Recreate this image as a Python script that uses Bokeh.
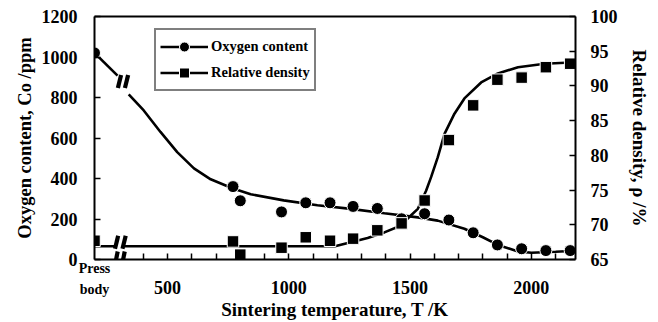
from bokeh.plotting import figure
from bokeh.models import Range1d, LinearAxis, FixedTicker, Legend, LegendItem, Arrow
from bokeh.embed import file_html
from bokeh.resources import INLINE

FONT = "Liberation Serif"

# ---------------- data ----------------
sinter_temp = [770, 800, 970, 1070, 1170, 1265, 1365, 1465, 1560, 1660, 1760, 1860, 1960, 2060, 2160]
oxygen_ppm = [360, 290, 235, 280, 280, 262, 252, 201, 226, 195, 132, 72, 53, 44, 44]
density_pct = [67.6, 65.7, 66.7, 68.2, 67.7, 68.0, 69.2, 70.2, 73.5, 82.2, 87.2, 90.9, 91.2, 92.7, 93.2]
press_oxygen = 1020
press_density = 67.7

# fitted trend curves
oxy_fit_T = [340, 402, 471, 540, 609, 678, 767, 843, 979, 1118, 1256, 1394, 1532, 1614,
             1724, 1800, 1862, 1945, 2000, 2100, 2182]
oxy_fit = [816, 736, 630, 530, 450, 396, 352, 322, 292, 268, 250, 228, 208, 192,
           152, 110, 72, 40, 33, 38, 43]
den_fit_T = [323, 1190, 1256, 1325, 1394, 1463, 1490, 1532, 1566, 1587, 1614, 1642, 1683,
             1724, 1793, 1862, 1945, 2055, 2182]
den_fit = [66.9, 66.9, 67.5, 68.1, 68.9, 69.9, 70.9, 72.3, 74.9, 76.9, 79.7, 83.1, 86.0,
           88.2, 90.5, 91.8, 92.7, 93.2, 93.4]
# segments from the press-body point to the axis break
oxy_press_T = [199, 294]
oxy_press = [press_oxygen, 908]
den_press_T = [199, 288]
den_press = [66.9, 66.9]

press_label = "Press\nbody"
x_major_ticks = [500, 1000, 1500, 2000]
x_minor_ticks = list(range(400, 2200, 100))
left_ticks = [0, 200, 400, 600, 800, 1000, 1200]
right_ticks = [65, 70, 75, 80, 85, 90, 95, 100]
left_title = "Oxygen content, Co /ppm"
right_title = "Relative density, ρ /%"
bottom_title = "Sintering temperature, T /K"

# ---------------- layout constants ----------------
X_START, X_END = 199, 2182
PRESS_T = X_START
FRAME_W, FRAME_H = 481, 243
PX_X = FRAME_W / (X_END - X_START)
PX_Y = FRAME_H / 1200.0
PX_D = FRAME_H / 35.0

p = figure(frame_width=FRAME_W, frame_height=FRAME_H,
           x_range=Range1d(X_START, X_END), y_range=Range1d(0, 1200),
           output_backend="svg", toolbar_location=None,
           x_axis_location=None, y_axis_location=None,
           min_border_left=94, min_border_right=83, min_border_top=16, min_border_bottom=63)
p.extra_y_ranges = {"den": Range1d(65, 100)}
p.grid.visible = False
p.outline_line_color = None
p.background_fill_color = "white"
p.border_fill_color = "white"


def style_axis(ax, standoff, size="18px"):
    ax.axis_line_color = "black"
    ax.axis_line_width = 2
    ax.major_tick_line_color = "black"
    ax.major_tick_line_width = 1.5
    ax.minor_tick_line_color = "black"
    ax.minor_tick_line_width = 1.5
    ax.major_tick_in = 6
    ax.major_tick_out = 0
    ax.minor_tick_in = 6
    ax.minor_tick_out = 0
    ax.major_label_text_font = FONT
    ax.major_label_text_font_style = "bold"
    ax.major_label_text_font_size = size
    ax.major_label_text_color = "black"
    ax.major_label_standoff = standoff
    ax.axis_label_text_font = FONT
    ax.axis_label_text_font_style = "bold"
    ax.axis_label_text_color = "black"


def title_axis(title, size, standoff, yrn):
    """An axis that only carries a title."""
    ax = LinearAxis(y_range_name=yrn, ticker=FixedTicker(ticks=[], minor_ticks=[]))
    style_axis(ax, 0)
    ax.axis_line_color = None
    ax.major_tick_line_color = None
    ax.minor_tick_line_color = None
    ax.major_label_text_font_size = "0px"
    ax.axis_label = title
    ax.axis_label_text_font_size = size
    ax.axis_label_standoff = standoff
    return ax


# bottom axis 1: axis line, all tick marks, "Press body" label at the press-body position
xa = LinearAxis(ticker=FixedTicker(ticks=[PRESS_T], minor_ticks=x_minor_ticks),
                major_label_overrides={PRESS_T: press_label})
style_axis(xa, 1, "14px")
xa.major_tick_in = 0
xa.major_label_text_line_height = 1.4
p.add_layout(xa, "below")

# bottom axis 2: numeric tick labels and the title
xb = LinearAxis(ticker=FixedTicker(ticks=x_major_ticks, minor_ticks=[]))
style_axis(xb, -19)
xb.axis_line_color = None
xb.major_tick_in = 0
xb.axis_label = bottom_title
xb.axis_label_text_font_size = "19px"
xb.axis_label_standoff = 2
p.add_layout(xb, "below")

# left: ticks + labels, then the title
ya = LinearAxis(ticker=FixedTicker(ticks=left_ticks, minor_ticks=[]))
style_axis(ya, 17)
p.add_layout(ya, "left")
p.add_layout(title_axis(left_title, "18.5px", 4, "default"), "left")

# right: ticks + labels, then the title
ra = LinearAxis(y_range_name="den", ticker=FixedTicker(ticks=right_ticks, minor_ticks=[]))
style_axis(ra, 15)
p.add_layout(ra, "right")
p.add_layout(title_axis(right_title, "19px", 8, "den"), "right")

ta = LinearAxis(ticker=FixedTicker(ticks=[], minor_ticks=[]))
style_axis(ta, 0)
ta.major_label_text_font_size = "0px"
p.add_layout(ta, "above")

# ---------------- lines ----------------
LW = 2.6
oxy_line = p.line(oxy_fit_T, oxy_fit, line_color="black", line_width=LW)
p.line(oxy_press_T, oxy_press, line_color="black", line_width=LW)
den_line = p.line(den_fit_T, den_fit, line_color="black", line_width=LW, y_range_name="den")
p.line(den_press_T, den_press, line_color="black", line_width=LW, y_range_name="den")

# ---------------- markers ----------------
oxy_pts = p.scatter(sinter_temp + [PRESS_T], oxygen_ppm + [press_oxygen], marker="circle",
                    size=12, fill_color="black", line_color="white", line_width=1)
den_pts = p.scatter(sinter_temp + [PRESS_T], density_pct + [press_density], marker="square",
                    size=11.5, fill_color="black", line_color="white", line_width=1,
                    y_range_name="den")


# ---------------- axis-break marks ----------------
def break_marks(ts, v, half_h_units, yrn="default"):
    dx = 1.6 / PX_X
    for t in ts:
        p.add_layout(Arrow(x_start=t - dx, y_start=v - half_h_units, x_end=t + dx,
                           y_end=v + half_h_units, end=None, line_color="black",
                           line_width=4.2, y_range_name=yrn, level="overlay"))


break_marks([302, 331], 879, 6.5 / PX_Y)
break_marks([290, 321], 67.5, 6.5 / PX_D, yrn="den")
break_marks([288, 317], 0, 8 / PX_Y)

# ---------------- legend ----------------
legend = Legend(items=[LegendItem(label="Oxygen content", renderers=[oxy_line, oxy_pts]),
                       LegendItem(label="Relative density", renderers=[den_line, den_pts])],
                location=(60, 168), orientation="vertical",
                glyph_width=48, glyph_height=25, spacing=1, padding=4, margin=0,
                label_standoff=3, label_text_font=FONT, label_text_font_style="bold",
                label_text_font_size="14.5px", label_text_color="black",
                border_line_color="black", border_line_width=2,
                background_fill_color="white", background_fill_alpha=1)
p.add_layout(legend, "center")

open("out.html", "w").write(file_html(p, INLINE))
